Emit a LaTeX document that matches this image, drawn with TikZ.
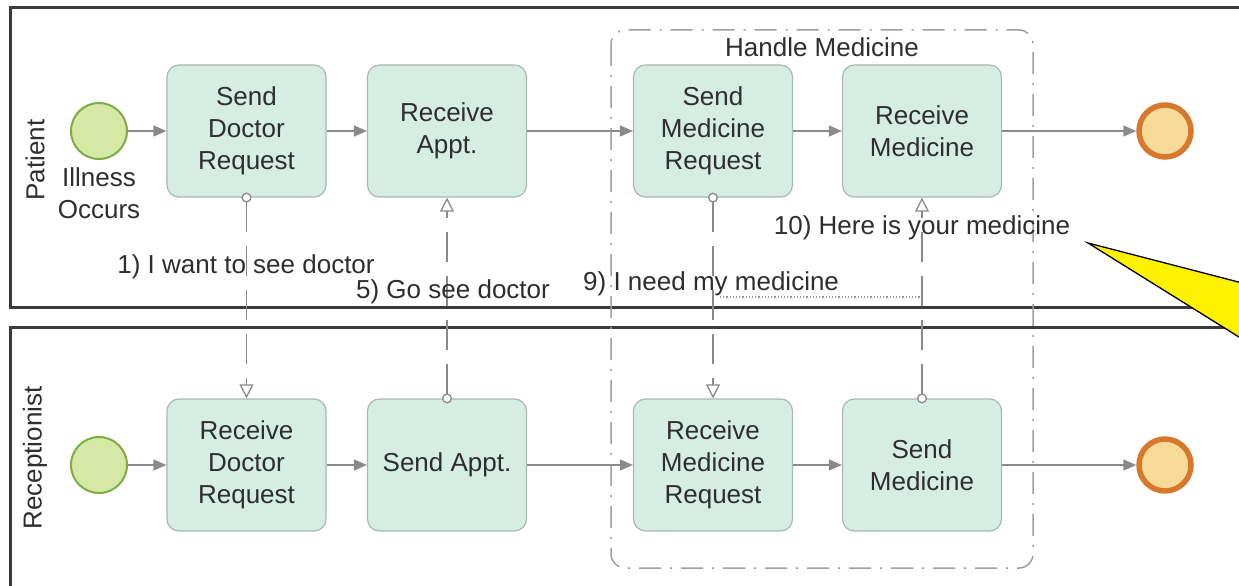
\documentclass[tikz,border=0pt]{standalone}
\usepackage{fontspec}
\setmainfont{Liberation Sans}
\usetikzlibrary{arrows.meta,shapes.geometric}
\definecolor{taskfill}{HTML}{D6EDE4}
\definecolor{taskline}{HTML}{A9B9B2}
\definecolor{startfill}{HTML}{D5E8A6}
\definecolor{startline}{HTML}{7EAD45}
\definecolor{endfill}{HTML}{F6DB98}
\definecolor{endline}{HTML}{D8782C}
\definecolor{flowgray}{HTML}{8A8A8A}
\definecolor{txt}{HTML}{2E2E2E}
\definecolor{lanec}{HTML}{3A3A3A}
\tikzset{
  lbl/.style={font=\fontsize{26}{32}\selectfont, text=txt, inner sep=0pt},
  task/.style={draw=taskline, fill=taskfill, line width=1.2pt, rounded corners=12pt,
    minimum width=159pt, minimum height=132pt, align=center, inner sep=0pt,
    font=\fontsize{26}{32}\selectfont, text=txt},
  startev/.style={circle, draw=startline, fill=startfill, line width=2pt, minimum size=56pt, inner sep=0pt},
  endev/.style={circle, draw=endline, fill=endfill, line width=5.5pt, minimum size=52pt, inner sep=0pt},
  seq/.style={draw=flowgray, line width=1.5pt, -{Triangle[length=13pt,width=11pt,fill=flowgray]}},
  msg/.style={draw=flowgray, line width=1.3pt, dash pattern=on 30pt off 14pt,
    {Circle[open,length=10pt,width=10pt,fill=white]}-{Triangle[open,length=14pt,width=14pt,fill=white]},
    shorten <=-5pt},
  lane/.style={draw=lanec, line width=3pt},
  subproc/.style={draw=gray!75, line width=1.5pt, rounded corners=14pt,
    dash pattern=on 22pt off 9pt on 2pt off 9pt},
}
\begin{document}
\begin{tikzpicture}[x=1pt,y=-1pt]
\useasboundingbox (0,0) rectangle (1239,586);
\begin{scope}
\clip (0,0) rectangle (1239,586);
\fill[white] (0,0) rectangle (1239,586);
% lanes
\draw[lane] (1270,8) -- (10,8) -- (10,307) -- (1270,307);
\draw[lane] (1270,327) -- (10,327) -- (10,620);
\node[lbl, rotate=90] (lanep) at (35,160) {Patient};
\node[lbl, rotate=90] (laner) at (35,458) {Receptionist};
% subprocess
\draw[subproc] (611,30) rectangle (1033,568);
\node[lbl] (hm) at (822,47) {Handle Medicine};
% row 1
\node[startev] (s1) at (99,131) {};
\node[lbl, align=center, font=\fontsize{26}{32}\selectfont] (ill) at (99,193) {Illness\\Occurs};
\node[task] (sdr) at (246.5,131) {Send\\Doctor\\Request};
\node[task] (ra) at (447,131) {Receive\\Appt.};
\node[task] (smr) at (713,131) {Send\\Medicine\\Request};
\node[task] (rm) at (922,131) {Receive\\Medicine};
\node[endev] (e1) at (1165,131) {};
% row 2
\node[startev] (s2) at (99,465) {};
\node[task] (rdr) at (246.5,465) {Receive\\Doctor\\Request};
\node[task] (sa) at (447,465) {Send Appt.};
\node[task] (rmr) at (713,465) {Receive\\Medicine\\Request};
\node[task] (sm) at (922,465) {Send\\Medicine};
\node[endev] (e2) at (1165,465) {};
% sequence flows
\draw[seq] (s1) -- (sdr);
\draw[seq] (sdr) -- (ra);
\draw[seq] (ra) -- (smr);
\draw[seq] (smr) -- (rm);
\draw[seq] (rm) -- (e1);
\draw[seq] (s2) -- (rdr);
\draw[seq] (rdr) -- (sa);
\draw[seq] (sa) -- (rmr);
\draw[seq] (rmr) -- (sm);
\draw[seq] (sm) -- (e2);
% message flows
\draw[msg] (sdr.south) -- (rdr.north);
\draw[msg] (sa.north) -- (ra.south);
\draw[msg] (smr.south) -- (rmr.north);
\draw[msg] (sm.north) -- (rm.south);
% message labels
\node[lbl] (m1) at (246,267) {1) I want to see doctor};
\node[lbl] (m5) at (453,292) {5) Go see doctor};
\node[lbl, anchor=west] (m9) at (583,284) {9) I need my medicine};
\node[lbl] (m10) at (922,228) {10) Here is your medicine};
\coordinate (d1) at (720,297);
\coordinate (d2) at (921,297);
\draw[gray!80, line width=1.2pt, dotted] (d1) -- (d2);
% callout
\draw[black, fill=yellow, line width=1.3pt] (1088,243) -- (1300,298) -- (1300,375) -- cycle;
\end{scope}
\end{tikzpicture}
\end{document}
